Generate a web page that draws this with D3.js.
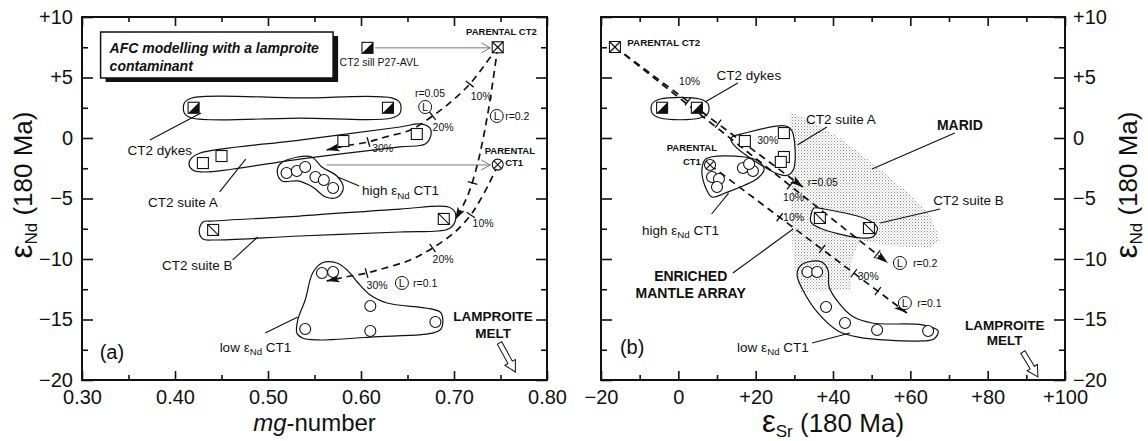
<!DOCTYPE html>
<html><head><meta charset="utf-8">
<script src="https://d3js.org/d3.v7.min.js"></script>
<style>
body{margin:0;background:#fff;}
svg{display:block;}
text{font-family:"Liberation Sans",Arial,Helvetica,sans-serif;fill:#111;}
</style></head><body>
<svg id="chart" width="1148" height="441"></svg>
<script>
// ---------------- axis ticks ----------------
const mgMajor=[0.30,0.40,0.50,0.60,0.70,0.80];
const mgMajorLabels=["0.30","0.40","0.50","0.60","0.70","0.80"];
const mgMinor=[0.35,0.45,0.55,0.65,0.75];
const srMajor=[-20,0,20,40,60,80,100];
const srMajorLabels=["−20","0","+20","+40","+60","+80","+100"];
const srMinor=[-10,10,30,50,70,90];
const ndMajor=[10,5,0,-5,-10,-15,-20];
const ndMajorLabels=["+10","+5","0","−5","−10","−15","−20"];
const ndMinor=[7.5,2.5,-2.5,-7.5,-12.5,-17.5];

// ---------------- panel (a): mg-number vs eNd ----------------
const aParentalCT2=[[0.747,7.5]];
const aSillP27=[[0.607,7.45]];
const aParentalCT1=[[0.747,-2.2]];
const aDykes=[[0.420,2.5],[0.629,2.5]];
const aSuiteA=[[0.430,-2.07],[0.450,-1.49],[0.581,-0.25],[0.660,0.33]];
const aHighCT1=[[0.520,-2.89],[0.531,-2.73],[0.540,-2.40],[0.551,-3.22],[0.560,-3.47],[0.570,-4.13]];
const aSuiteB=[[0.441,-7.60],[0.689,-6.69]];
const aLowCT1=[[0.558,-11.16],[0.570,-11.08],[0.610,-13.88],[0.540,-15.79],[0.610,-15.95],[0.680,-15.21]];

const aOutDykes=[[0.418,3.31],[0.534,3.31],[0.633,3.31],[0.642,2.89],[0.642,2.07],[0.633,1.65],[0.534,1.65],[0.418,1.65],[0.410,2.07],[0.410,2.89]];
const aOutSuiteA=[[0.418,-1.65],[0.427,-1.24],[0.534,-0.17],[0.642,0.91],[0.663,1.16],[0.674,0.83],[0.675,0.17],[0.669,-0.50],[0.642,-0.74],[0.534,-1.74],[0.432,-2.81],[0.419,-2.64],[0.415,-2.15]];
const aOutSuiteB=[[0.430,-6.94],[0.441,-6.86],[0.534,-6.45],[0.642,-5.87],[0.694,-5.70],[0.701,-6.12],[0.701,-6.94],[0.694,-7.52],[0.642,-7.77],[0.534,-8.10],[0.441,-8.43],[0.430,-8.35],[0.426,-7.69]];
const aOutHighCT1=[[0.513,-2.15],[0.532,-1.57],[0.547,-1.57],[0.558,-2.40],[0.574,-3.14],[0.581,-4.13],[0.575,-4.88],[0.562,-4.88],[0.548,-4.05],[0.532,-3.55],[0.515,-3.55],[0.510,-2.81]];
const aOutLowCT1=[[0.531,-16.12],[0.532,-15.04],[0.540,-13.39],[0.548,-11.16],[0.558,-10.33],[0.574,-10.33],[0.585,-10.91],[0.596,-11.90],[0.610,-12.98],[0.628,-13.64],[0.685,-14.38],[0.688,-15.04],[0.685,-15.87],[0.610,-16.45],[0.553,-16.69],[0.537,-16.53]];

const aCurveR005=[[0.747,7.52],[0.733,6.03],[0.717,4.46],[0.698,3.06],[0.677,1.82],[0.653,0.66],[0.626,0.08],[0.608,-0.33],[0.583,-0.66],[0.563,-0.99]];
const aTicksR005=[[0.717,4.46],[0.677,1.82],[0.608,-0.33]];
const aCurveR02=[[0.747,7.52],[0.742,4.79],[0.737,2.31],[0.731,-0.17],[0.725,-2.23],[0.717,-4.30],[0.710,-5.54],[0.701,-6.78]];
const aTicksR02=[[0.720,-3.72]];
const aCurveR01=[[0.747,-2.23],[0.737,-3.88],[0.725,-5.54],[0.718,-6.36],[0.701,-7.77],[0.677,-9.09],[0.653,-10.08],[0.626,-10.74],[0.606,-11.16],[0.583,-11.49],[0.563,-11.82]];
const aTicksR01=[[0.718,-6.36],[0.677,-9.09],[0.606,-11.16]];

const aPctLabels=["10%","20%","30%","10%","20%","30%"];
const aPctAt=[[0.718,3.45],[0.677,0.91],[0.612,-0.83],[0.720,-7.02],[0.677,-10.0],[0.606,-12.15]];
const aRLabels=["r=0.05","r=0.2","r=0.1"];
const aRCircleAt=[[0.669,2.56],[0.746,1.82],[0.644,-11.98]];
const aRTextAt=[[0.658,3.72],[0.755,1.82],[0.656,-11.98]];

const aGroupLabels=["CT2 dykes","CT2 suite A","high ε_Nd CT1","CT2 suite B","low ε_Nd CT1"];
const aGroupLabelAt=[[0.349,-0.99],[0.371,-5.29],[0.601,-4.30],[0.386,-10.5],[0.448,-17.27]];
const aLeaders=[[[0.373,-0.17],[0.428,2.07]],[[0.448,-4.46],[0.476,-1.74]],[[0.575,-3.22],[0.598,-3.97]],[[0.462,-10.08],[0.489,-8.18]],[[0.497,-16.12],[0.532,-14.79]]];
const aGreyArrows=[[[0.615,7.45],[0.739,7.45]],[[0.563,-2.23],[0.739,-2.23]]];
const aMeltArrow=[[0.749,-16.94],[0.766,-19.34]];
const aTitleLines=["AFC modelling with a lamproite","contaminant"];
const aTitleBox=[[0.320,8.76],[0.570,4.96]];

// ---------------- panel (b): eSr vs eNd ----------------
const bParentalCT2=[[-16.4,7.52]];
const bParentalCT1=[[8.2,-2.23]];
const bDykes=[[-4.2,2.5],[4.8,2.5]];
const bSuiteA=[[17.2,-0.25],[27.3,0.41],[27.3,-1.57],[26.5,-1.98]];
const bHighCT1=[[8.7,-3.22],[10.5,-3.39],[10.0,-4.05],[16.7,-2.48],[19.3,-2.73],[18.3,-2.15]];
const bSuiteB=[[36.6,-6.61],[49.3,-7.44]];
const bLowCT1=[[33.4,-11.07],[35.9,-11.07],[38.2,-13.97],[43.1,-15.29],[51.4,-15.87],[64.6,-15.95]];

const bOutDykes=[[-4.7,3.22],[5.6,3.22],[7.7,2.81],[7.7,2.07],[5.6,1.65],[-4.7,1.65],[-6.8,2.07],[-6.8,2.81]];
const bOutSuiteA=[[17.2,0.41],[27.8,0.99],[29.4,0.58],[29.9,-2.48],[28.4,-3.06],[25.8,-2.98],[14.4,-0.58],[13.6,0.0]];
const bOutHighCT1=[[7.1,-1.74],[17.2,-1.57],[20.6,-1.90],[22.2,-2.56],[20.6,-3.31],[12.1,-4.55],[8.7,-4.88],[7.1,-4.13],[6.1,-2.64]];
const bOutSuiteB=[[35.1,-5.79],[37.7,-5.87],[49.1,-6.78],[51.5,-7.44],[50.2,-8.18],[47.1,-8.26],[36.6,-7.44],[34.3,-6.94],[34.5,-6.12]];
const bOutLowCT1=[[31.5,-10.58],[33.5,-10.25],[37.1,-10.25],[38.7,-10.91],[39.0,-12.31],[41.3,-13.55],[44.9,-14.71],[50.1,-15.29],[63.1,-15.45],[67.2,-15.95],[66.1,-16.61],[62.0,-16.78],[46.5,-16.45],[41.3,-15.95],[36.1,-14.46],[32.2,-12.56],[30.7,-11.32]];
const bMaridField=[[28.9,2.15],[32.7,1.65],[41.8,0.0],[50.9,-2.23],[58.6,-4.30],[65.1,-6.36],[67.7,-8.43],[65.1,-9.09],[54.7,-8.93],[47.0,-8.43],[44.9,-10.08],[44.4,-12.56],[31.5,-12.73],[29.7,-10.08],[28.9,-5.12],[29.7,-1.82],[28.9,0.66]];

const bLineR005=[[-16.4,7.52],[32.2,-4.05]];
const bTicksR005=[[2.5,3.02],[10.3,1.18]];
const bLineR02=[[-16.4,7.52],[54.2,-10.33]];
const bTicksR02=[[28.9,-3.92],[51.4,-9.61]];
const bLineR01=[[8.2,-2.23],[59.1,-14.46]];
const bTicksR01=[[26.2,-6.55],[37.2,-9.16],[45.4,-11.16],[51.6,-12.65]];

const bPctLabels=["10%","30%","10%","10%","30%"];
const bPctAt=[[0.2,4.71],[20.4,-0.17],[27.1,-4.88],[27.1,-6.53],[46.4,-11.40]];
const bRLabels=["r=0.2","r=0.1"];
const bRCircleAt=[[57.3,-10.33],[58.6,-13.64]];
const bRTextAt=[[60.7,-10.33],[61.8,-13.64]];
const bR005Label="r=0.05";
const bR005LabelAt=[33.5,-3.64];

const bGroupLabels=["CT2 dykes","CT2 suite A","high ε_Nd CT1","CT2 suite B","low ε_Nd CT1"];
const bGroupLabelAt=[[9.9,5.2],[33.0,1.57],[-9.4,-7.60],[65.9,-5.12],[15.2,-17.27]];
const bLeaders=[[[15.4,4.55],[6.9,2.98]],[[38.4,0.91],[30.8,-0.58]],[[8.6,-6.28],[13.0,-4.55]],[[67.7,-5.87],[52.2,-7.02]],[[34.6,-16.94],[44.4,-16.12]],[[71.5,0.41],[50.1,-2.56]],[[14.1,-11.16],[29.7,-7.52]]];
const bMeltArrow=[[89.1,-17.69],[93.0,-19.75]];

// ---------------- setup ----------------
const svg=d3.select("#chart");
const FONT='"Liberation Sans",Arial,Helvetica,sans-serif';
const BOLD='"DejaVu Sans",Verdana,sans-serif';
const defs=svg.append("defs");
const pat=defs.append("pattern").attr("id","stip").attr("width",3).attr("height",3).attr("patternUnits","userSpaceOnUse");
pat.append("rect").attr("width",1).attr("height",1).attr("fill","#8c8c8c");
pat.append("rect").attr("x",1.5).attr("y",1.5).attr("width",1).attr("height",1).attr("fill","#a8a8a8");

const TOP=17,BOTTOM=380;
const xA=d3.scaleLinear().domain([0.30,0.80]).range([82,547]);
const yA=d3.scaleLinear().domain([-20,10]).range([BOTTOM,TOP]);
const xB=d3.scaleLinear().domain([-20,100]).range([601,1065]);
const yB=d3.scaleLinear().domain([-20,10]).range([BOTTOM,TOP]);

function axes(sx,sy,xMaj,xLab,xMin,yLabSide){
  const [x0,x1]=sx.range();
  const g=svg.append("g");
  function ax(gen,tr,vals,labs,size,pad){
    gen.tickValues(vals).tickSizeInner(size).tickSizeOuter(0).tickPadding(pad)
       .tickFormat(labs?((d,i)=>labs[i]):()=>"");
    const s=g.append("g").attr("transform",tr).call(gen);
    s.select(".domain").remove();
    s.selectAll("line").attr("stroke","#111").attr("stroke-width",1.6);
    s.selectAll("text").attr("font-size",20).attr("font-family",FONT).attr("fill","#111");
  }
  ax(d3.axisBottom(sx),`translate(0,${BOTTOM})`,xMaj,xLab,-9,10);
  ax(d3.axisBottom(sx),`translate(0,${BOTTOM})`,xMin,null,-5,10);
  ax(d3.axisTop(sx),`translate(0,${TOP})`,xMaj,null,-9,3);
  ax(d3.axisTop(sx),`translate(0,${TOP})`,xMin,null,-5,3);
  ax(d3.axisLeft(sy),`translate(${x0},0)`,ndMajor,yLabSide==="left"?ndMajorLabels:null,-11,9);
  ax(d3.axisLeft(sy),`translate(${x0},0)`,ndMinor,null,-6,9);
  ax(d3.axisRight(sy),`translate(${x1},0)`,ndMajor,yLabSide==="right"?ndMajorLabels:null,-11,8);
  ax(d3.axisRight(sy),`translate(${x1},0)`,ndMinor,null,-6,8);
  g.append("rect").attr("x",x0).attr("y",TOP).attr("width",x1-x0).attr("height",BOTTOM-TOP)
   .attr("fill","none").attr("stroke","#111").attr("stroke-width",2);
}

function richText(g,str,x,y,size,opts={}){
  const t=g.append("text").attr("x",x).attr("y",y+size*0.35).attr("font-size",size)
    .attr("text-anchor",opts.anchor||"start")
    .attr("font-family",opts.bold?BOLD:FONT).attr("font-weight",opts.bold?"bold":"normal")
    .attr("font-style",opts.italic?"italic":"normal");
  const parts=str.split(/(_\w+)/).filter(p=>p.length);
  let shifted=false;
  parts.forEach(p=>{
    if(p[0]==="_"){
      t.append("tspan").text(p.slice(1)).attr("font-size",size*0.72).attr("dy",size*0.28);
      shifted=true;
    } else {
      const ts=t.append("tspan").text(p);
      if(shifted){ts.attr("dy",-size*0.28);shifted=false;}
    }
  });
  return t;
}

function marker(g,type,px,py){
  const h=5.5;
  const st={"stroke":"#111","stroke-width":1.1};
  const ap=(sel)=>{for(const k in st) sel.attr(k,st[k]);return sel;};
  if(type.startsWith("sq")){
    ap(g.append("rect").attr("x",px-h).attr("y",py-h).attr("width",2*h).attr("height",2*h).attr("fill","#fff"));
    if(type==="sqHalf") g.append("path").attr("d",`M${px+h},${py-h}L${px+h},${py+h}L${px-h},${py+h}Z`).attr("fill","#111");
    if(type==="sqDiag"||type==="sqCross") ap(g.append("line").attr("x1",px-h).attr("y1",py-h).attr("x2",px+h).attr("y2",py+h));
    if(type==="sqCross") ap(g.append("line").attr("x1",px+h).attr("y1",py-h).attr("x2",px-h).attr("y2",py+h));
  } else {
    ap(g.append("circle").attr("cx",px).attr("cy",py).attr("r",h).attr("fill","#fff"));
    if(type==="circCross"){
      const k=h*0.72;
      ap(g.append("line").attr("x1",px-k).attr("y1",py-k).attr("x2",px+k).attr("y2",py+k));
      ap(g.append("line").attr("x1",px+k).attr("y1",py-k).attr("x2",px-k).attr("y2",py+k));
    }
  }
}

function points(g,sx,sy,data,type){ data.forEach(d=>marker(g,type,sx(d[0]),sy(d[1]))); }

function outline(g,sx,sy,data,fill){
  const line=d3.line().x(d=>sx(d[0])).y(d=>sy(d[1])).curve(d3.curveCatmullRomClosed.alpha(0.5));
  g.append("path").attr("d",line(data)).attr("fill",fill||"none").attr("stroke","#111").attr("stroke-width",1.2);
}

function segLine(g,sx,sy,seg,color,w){
  g.append("line").attr("x1",sx(seg[0][0])).attr("y1",sy(seg[0][1])).attr("x2",sx(seg[1][0])).attr("y2",sy(seg[1][1]))
   .attr("stroke",color||"#111").attr("stroke-width",w||1.1);
}

function afc(g,sx,sy,pts,ticks){
  const P=pts.map(d=>[sx(d[0]),sy(d[1])]);
  const line=d3.line().curve(P.length>2?d3.curveCatmullRom.alpha(0.5):d3.curveLinear);
  g.append("path").attr("d",line(P)).attr("fill","none").attr("stroke","#111")
   .attr("stroke-width",1.7).attr("stroke-dasharray","7,5");
  const n=P.length,e=P[n-1],s=P[n-2];
  let ux=e[0]-s[0],uy=e[1]-s[1];const L=Math.hypot(ux,uy);ux/=L;uy/=L;
  const px=-uy,py=ux;
  g.append("path").attr("d",`M${e[0]},${e[1]}L${e[0]-13*ux+4*px},${e[1]-13*uy+4*py}L${e[0]-10*ux},${e[1]-10*uy}L${e[0]-13*ux-4*px},${e[1]-13*uy-4*py}Z`).attr("fill","#111");
  ticks.forEach(t=>{
    const T=[sx(t[0]),sy(t[1])];
    let best=null,bd=1e9;
    for(let i=0;i<n-1;i++){
      const a=P[i],b=P[i+1];const dx=b[0]-a[0],dy=b[1]-a[1];const l2=dx*dx+dy*dy;
      let k=((T[0]-a[0])*dx+(T[1]-a[1])*dy)/l2;k=Math.max(0,Math.min(1,k));
      const qx=a[0]+k*dx,qy=a[1]+k*dy;const dd=Math.hypot(T[0]-qx,T[1]-qy);
      if(dd<bd){bd=dd;best=[dx,dy];}
    }
    const l=Math.hypot(best[0],best[1]);const vx=-best[1]/l,vy=best[0]/l;
    g.append("line").attr("x1",T[0]-5*vx).attr("y1",T[1]-5*vy).attr("x2",T[0]+5*vx).attr("y2",T[1]+5*vy)
     .attr("stroke","#111").attr("stroke-width",1.3);
  });
}

function greyArrow(g,sx,sy,seg){
  const a=[sx(seg[0][0]),sy(seg[0][1])],b=[sx(seg[1][0]),sy(seg[1][1])];
  g.append("line").attr("x1",a[0]).attr("y1",a[1]).attr("x2",b[0]).attr("y2",b[1]).attr("stroke","#777").attr("stroke-width",1);
  let ux=b[0]-a[0],uy=b[1]-a[1];const L=Math.hypot(ux,uy);ux/=L;uy/=L;const px=-uy,py=ux;
  g.append("polyline").attr("points",`${b[0]-9*ux+5*px},${b[1]-9*uy+5*py} ${b[0]},${b[1]} ${b[0]-9*ux-5*px},${b[1]-9*uy-5*py}`)
   .attr("fill","none").attr("stroke","#777").attr("stroke-width",1);
}

function hollowArrow(g,sx,sy,seg){
  const a=[sx(seg[0][0]),sy(seg[0][1])],b=[sx(seg[1][0]),sy(seg[1][1])];
  const L=Math.hypot(b[0]-a[0],b[1]-a[1]),ang=Math.atan2(b[1]-a[1],b[0]-a[0])*180/Math.PI;
  const hl=11,hw=6,sw=2.5;
  g.append("path").attr("d",`M0,${-sw}L${L-hl},${-sw}L${L-hl},${-hw}L${L},0L${L-hl},${hw}L${L-hl},${sw}L0,${sw}Z`)
   .attr("transform",`translate(${a[0]},${a[1]}) rotate(${ang})`).attr("fill","#fff").attr("stroke","#111").attr("stroke-width",1);
}

function lCircle(g,sx,sy,c,tx,ty,txt){
  const cx=sx(c[0]),cy=sy(c[1]);
  g.append("circle").attr("cx",cx).attr("cy",cy).attr("r",6.5).attr("fill","#fff").attr("stroke","#111").attr("stroke-width",1);
  g.append("text").attr("x",cx).attr("y",cy+4).attr("text-anchor","middle").attr("font-size",11).attr("font-family",FONT).text("L");
  richText(g,txt,sx(tx),sy(ty),10.5);
}

// ---------------- panel (a) ----------------
const gA=svg.append("g");
outline(gA,xA,yA,aOutDykes);
outline(gA,xA,yA,aOutSuiteA);
outline(gA,xA,yA,aOutSuiteB);
outline(gA,xA,yA,aOutHighCT1);
outline(gA,xA,yA,aOutLowCT1);
aLeaders.forEach(s=>segLine(gA,xA,yA,s));
aGreyArrows.forEach(s=>greyArrow(gA,xA,yA,s));
afc(gA,xA,yA,aCurveR005,aTicksR005);
afc(gA,xA,yA,aCurveR02,aTicksR02);
afc(gA,xA,yA,aCurveR01,aTicksR01);
points(gA,xA,yA,aDykes,"sqHalf");
points(gA,xA,yA,aSillP27,"sqHalf");
points(gA,xA,yA,aSuiteA,"sq");
points(gA,xA,yA,aSuiteB,"sqDiag");
points(gA,xA,yA,aHighCT1,"circ");
points(gA,xA,yA,aLowCT1,"circ");
points(gA,xA,yA,aParentalCT2,"sqCross");
points(gA,xA,yA,aParentalCT1,"circCross");
aPctLabels.forEach((t,i)=>richText(gA,t,xA(aPctAt[i][0]),yA(aPctAt[i][1]),10.5));
aRLabels.forEach((t,i)=>lCircle(gA,xA,yA,aRCircleAt[i],aRTextAt[i][0],aRTextAt[i][1],t));
aGroupLabels.forEach((t,i)=>richText(gA,t,xA(aGroupLabelAt[i][0]),yA(aGroupLabelAt[i][1]),13.5));
richText(gA,"PARENTAL CT2",xA(0.751),yA(8.76),9.5,{bold:true,anchor:"middle"});
richText(gA,"PARENTAL",xA(0.733),yA(-1.07),9.5,{bold:true});
richText(gA,"CT1",xA(0.755),yA(-2.0),9.5,{bold:true});
richText(gA,"CT2 sill P27-AVL",xA(0.577),yA(6.28),10.5);
richText(gA,"LAMPROITE",xA(0.742),yA(-14.7),13.5,{bold:true,anchor:"middle"});
richText(gA,"MELT",xA(0.742),yA(-16.1),13.5,{bold:true,anchor:"middle"});
hollowArrow(gA,xA,yA,aMeltArrow);
richText(gA,"(a)",xA(0.319),yA(-17.7),20);
// title box
{
  const x0=xA(aTitleBox[0][0]),y0=yA(aTitleBox[0][1]),x1=xA(aTitleBox[1][0]),y1=yA(aTitleBox[1][1]);
  gA.append("rect").attr("x",x0+5).attr("y",y0+4).attr("width",x1-x0).attr("height",y1-y0).attr("fill","#111");
  gA.append("rect").attr("x",x0).attr("y",y0).attr("width",x1-x0).attr("height",y1-y0).attr("fill","#fff").attr("stroke","#111").attr("stroke-width",1.5);
  aTitleLines.forEach((t,i)=>richText(gA,t,x0+9,y0+16+i*18,14,{italic:true}).attr("font-weight","bold"));
}

// ---------------- panel (b) ----------------
const gB=svg.append("g");
gB.append("path").attr("d",d3.line().x(d=>xB(d[0])).y(d=>yB(d[1]))(bMaridField)+"Z").attr("fill","url(#stip)").attr("stroke","none");
outline(gB,xB,yB,bOutDykes);
outline(gB,xB,yB,bOutSuiteA,"#fff");
outline(gB,xB,yB,bOutHighCT1);
outline(gB,xB,yB,bOutSuiteB,"#fff");
outline(gB,xB,yB,bOutLowCT1);
bLeaders.forEach(s=>segLine(gB,xB,yB,s));
afc(gB,xB,yB,bLineR005,bTicksR005);
afc(gB,xB,yB,bLineR02,bTicksR02);
afc(gB,xB,yB,bLineR01,bTicksR01);
points(gB,xB,yB,bDykes,"sqHalf");
points(gB,xB,yB,bSuiteA,"sq");
points(gB,xB,yB,bSuiteB,"sqDiag");
points(gB,xB,yB,bHighCT1,"circ");
points(gB,xB,yB,bLowCT1,"circ");
points(gB,xB,yB,bParentalCT2,"sqCross");
points(gB,xB,yB,bParentalCT1,"circCross");
bPctLabels.forEach((t,i)=>richText(gB,t,xB(bPctAt[i][0]),yB(bPctAt[i][1]),10.5));
bRLabels.forEach((t,i)=>lCircle(gB,xB,yB,bRCircleAt[i],bRTextAt[i][0],bRTextAt[i][1],t));
richText(gB,bR005Label,xB(bR005LabelAt[0]),yB(bR005LabelAt[1]),10.5);
bGroupLabels.forEach((t,i)=>richText(gB,t,xB(bGroupLabelAt[i][0]),yB(bGroupLabelAt[i][1]),13.5));
richText(gB,"PARENTAL CT2",xB(-13.2),yB(7.85),9.8,{bold:true});
richText(gB,"PARENTAL",xB(3.5),yB(-0.83),9.5,{bold:true,anchor:"middle"});
richText(gB,"CT1",xB(3.5),yB(-1.98),9.5,{bold:true,anchor:"middle"});
richText(gB,"MARID",xB(72.8),yB(1.07),14,{bold:true,anchor:"middle"});
richText(gB,"ENRICHED",xB(3.2),yB(-11.40),14,{bold:true,anchor:"middle"});
richText(gB,"MANTLE ARRAY",xB(3.2),yB(-12.81),14,{bold:true,anchor:"middle"});
richText(gB,"LAMPROITE",xB(84.4),yB(-15.45),13.5,{bold:true,anchor:"middle"});
richText(gB,"MELT",xB(84.4),yB(-16.69),13.5,{bold:true,anchor:"middle"});
hollowArrow(gB,xB,yB,bMeltArrow);
richText(gB,"(b)",xB(-15.1),yB(-17.27),20);

// ---------------- axes ----------------
axes(xA,yA,mgMajor,mgMajorLabels,mgMinor,"left");
axes(xB,yB,srMajor,srMajorLabels,srMinor,"right");

// axis titles
function epsTitle(x,y,sub,rot){
  const t=svg.append("text").attr("transform",`translate(${x},${y})${rot?" rotate(-90)":""}`)
    .attr("text-anchor","middle").attr("font-family",FONT).attr("font-size",26);
  t.append("tspan").text("ε").attr("font-size",31);
  t.append("tspan").text(sub).attr("font-size",17).attr("dy",5);
  t.append("tspan").text(" (180 Ma)").attr("font-size",26).attr("dy",-5);
}
{
  const t=svg.append("text").attr("x",(82+547)/2).attr("y",431).attr("text-anchor","middle").attr("font-family",FONT).attr("font-size",24);
  t.append("tspan").text("mg").attr("font-style","italic");
  t.append("tspan").text("-number");
}
epsTitle((601+1065)/2,432,"Sr",false);
epsTitle(32,185,"Nd",true);
epsTitle(1137,185,"Nd",true);
</script>
</body></html>
